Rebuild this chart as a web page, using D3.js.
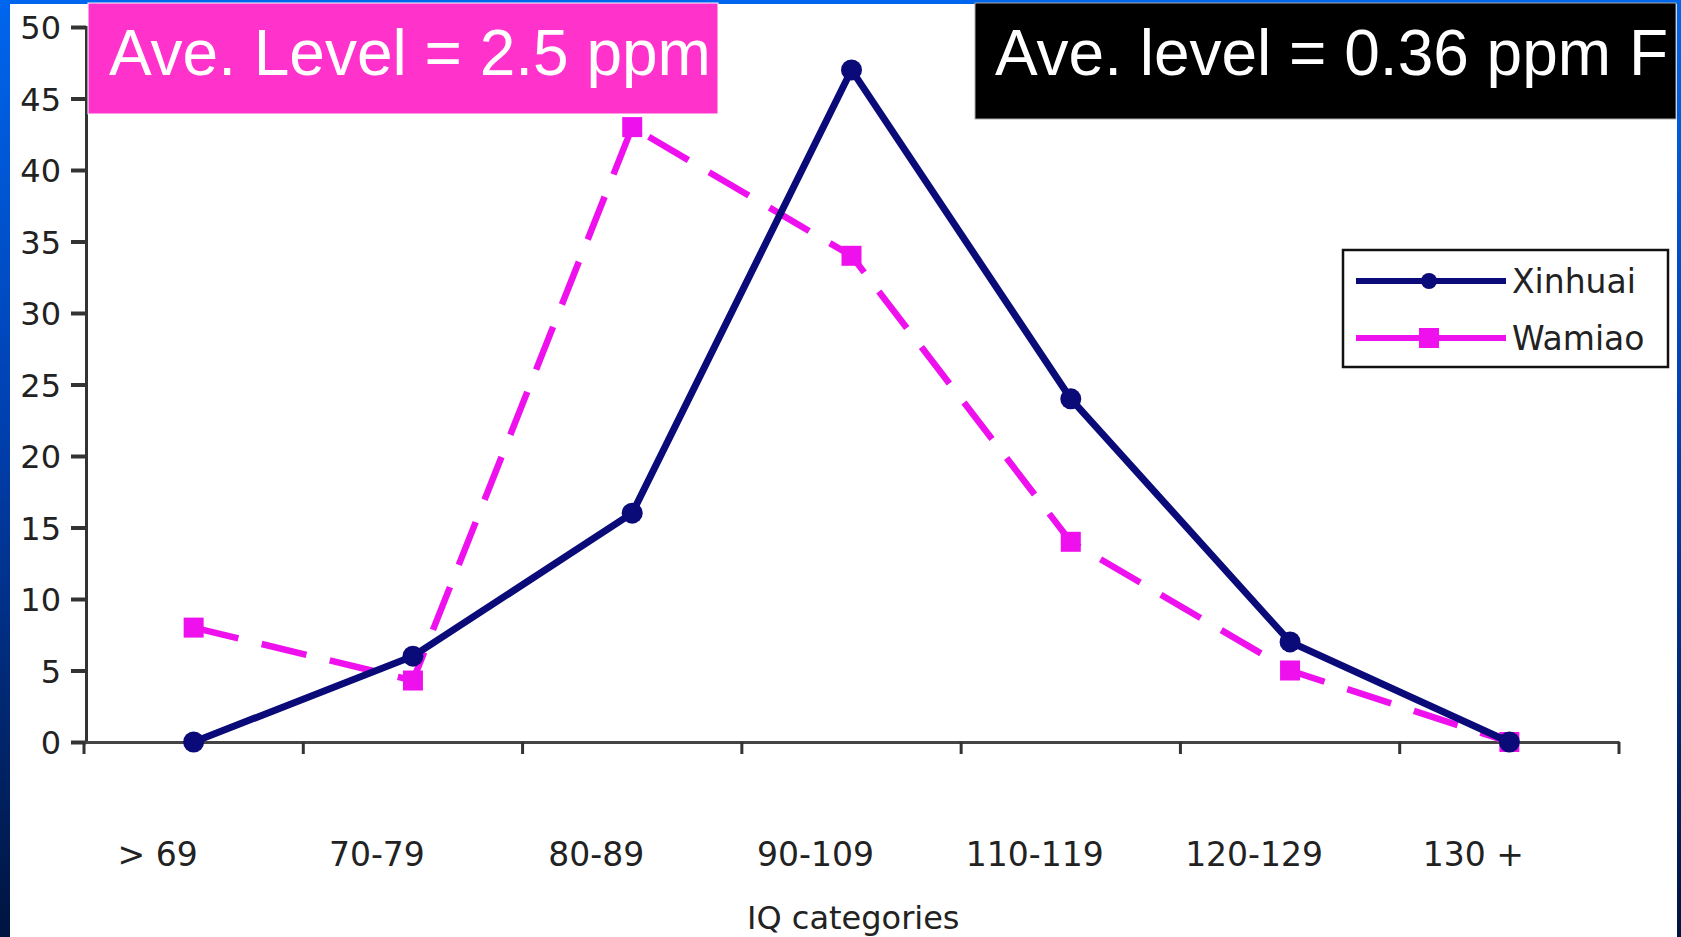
<!DOCTYPE html>
<html><head><meta charset="utf-8">
<script src="https://cdn.jsdelivr.net/npm/d3@7"></script>
<style>html,body{margin:0;padding:0;overflow:hidden;background:#fff}</style>
</head><body>
<script>
const categories = ["> 69","70-79","80-89","90-109","110-119","120-129","130 +"];
const xinhuai = [0, 6, 16, 47, 24, 7, 0];
const wamiao  = [8, 4.3, 43, 34, 14, 5, 0];
const yTicks = [0,5,10,15,20,25,30,35,40,45,50];
const seriesNames = ["Xinhuai","Wamiao"];
const boxTexts = ["Ave. Level = 2.5 ppm","Ave. level = 0.36 ppm F"];
const axisTitle = "IQ categories";

const W = 1681, H = 937;
const svg = d3.select("body").append("svg").attr("width",W).attr("height",H);
const defs = svg.append("defs");
const g = defs.append("linearGradient").attr("id","frame").attr("x1",0).attr("y1",0).attr("x2",0).attr("y2",1);
g.append("stop").attr("offset","0%").attr("stop-color","#0066ee");
g.append("stop").attr("offset","45%").attr("stop-color","#0040b0");
g.append("stop").attr("offset","100%").attr("stop-color","#00143f");
svg.append("rect").attr("width",W).attr("height",H).attr("fill","url(#frame)");
svg.append("rect").attr("x",10).attr("y",4).attr("width",1667).attr("height",H).attr("fill","#fff");

const x = d3.scaleBand().domain(categories).range([84,1619]);
const y = d3.scaleLinear().domain([0,50]).range([742,27]);
const font = "'DejaVu Sans', Verdana, sans-serif";

// y axis
const yAxis = svg.append("g").attr("transform","translate(86,0)")
  .call(d3.axisLeft(y).tickValues(yTicks).tickSize(15).tickPadding(10));
yAxis.select(".domain").attr("stroke","#333").attr("stroke-width",3);
yAxis.selectAll(".tick line").attr("stroke","#333").attr("stroke-width",4);
yAxis.selectAll(".tick text").attr("font-family",font).attr("font-size",32).attr("fill","#222").attr("dy","0.36em");

// x axis
const xAxis = svg.append("g").attr("transform","translate(0,742)")
  .call(d3.axisBottom(x).tickSize(0).tickFormat(""));
xAxis.select(".domain").attr("stroke","#444").attr("stroke-width",3);
const bounds = categories.map(c=>x(c)).concat([x.range()[1]]);
svg.append("g").selectAll("line").data(bounds).join("line")
  .attr("x1",d=>d).attr("x2",d=>d).attr("y1",742).attr("y2",754)
  .attr("stroke","#333").attr("stroke-width",3);
svg.append("g").selectAll("text").data(categories).join("text")
  .attr("x",d=>x(d)+x.bandwidth()/2-36).attr("y",866)
  .attr("text-anchor","middle").attr("font-family",font).attr("font-size",33)
  .attr("fill","#222").text(d=>d);

svg.append("text").attr("x",747).attr("y",929).attr("font-family",font).attr("font-size",32)
  .attr("fill","#222").text(axisTitle);

const cx = d=>x(d)+x.bandwidth()/2;
const line = d3.line().x((v,i)=>cx(categories[i])).y(v=>y(v));
const navy = "#0a0a78", mag = "#ee11ee";

svg.append("path").datum(wamiao).attr("d",line).attr("fill","none")
  .attr("stroke",mag).attr("stroke-width",6.5).attr("stroke-dasharray","46,24");
svg.append("g").selectAll("rect").data(wamiao).join("rect")
  .attr("x",(v,i)=>cx(categories[i])-10).attr("y",v=>y(v)-10)
  .attr("width",20).attr("height",20).attr("fill",mag);

svg.append("path").datum(xinhuai).attr("d",line).attr("fill","none")
  .attr("stroke",navy).attr("stroke-width",7);
svg.append("g").selectAll("circle").data(xinhuai).join("circle")
  .attr("cx",(v,i)=>cx(categories[i])).attr("cy",v=>y(v)).attr("r",10.5).attr("fill",navy);

// legend
const lg = svg.append("g");
lg.append("rect").attr("x",1343).attr("y",250).attr("width",325).attr("height",117)
  .attr("fill","#fff").attr("stroke","#111").attr("stroke-width",2.5);
const lcol = [navy, mag];
seriesNames.forEach((n,i)=>{
  const ly = 281 + i*57;
  lg.append("line").attr("x1",1356).attr("x2",1506).attr("y1",ly).attr("y2",ly)
    .attr("stroke",lcol[i]).attr("stroke-width",6);
  if(i===0) lg.append("circle").attr("cx",1429).attr("cy",ly).attr("r",8).attr("fill",navy);
  else lg.append("rect").attr("x",1419).attr("y",ly-10).attr("width",20).attr("height",20).attr("fill",mag);
  lg.append("text").attr("x",1512).attr("y",ly).attr("dy","0.36em").attr("font-family",font)
    .attr("font-size",33).attr("fill","#222").text(n);
});

// annotation boxes
svg.append("rect").attr("x",88).attr("y",3).attr("width",630).attr("height",111).attr("fill","#ff33cc")
  .attr("stroke","#fff").attr("stroke-width",1);
svg.append("text").attr("x",109).attr("y",75).attr("font-family","'Liberation Sans', Arial, sans-serif")
  .attr("font-size",64).attr("fill","#fff").text(boxTexts[0]);
svg.append("rect").attr("x",975).attr("y",3).attr("width",701).attr("height",116).attr("fill","#000")
  .attr("stroke","#aaa").attr("stroke-width",1);
svg.append("text").attr("x",995).attr("y",75).attr("font-family","'Liberation Sans', Arial, sans-serif")
  .attr("font-size",64).attr("fill","#fff").text(boxTexts[1]);
</script>
</body></html>
